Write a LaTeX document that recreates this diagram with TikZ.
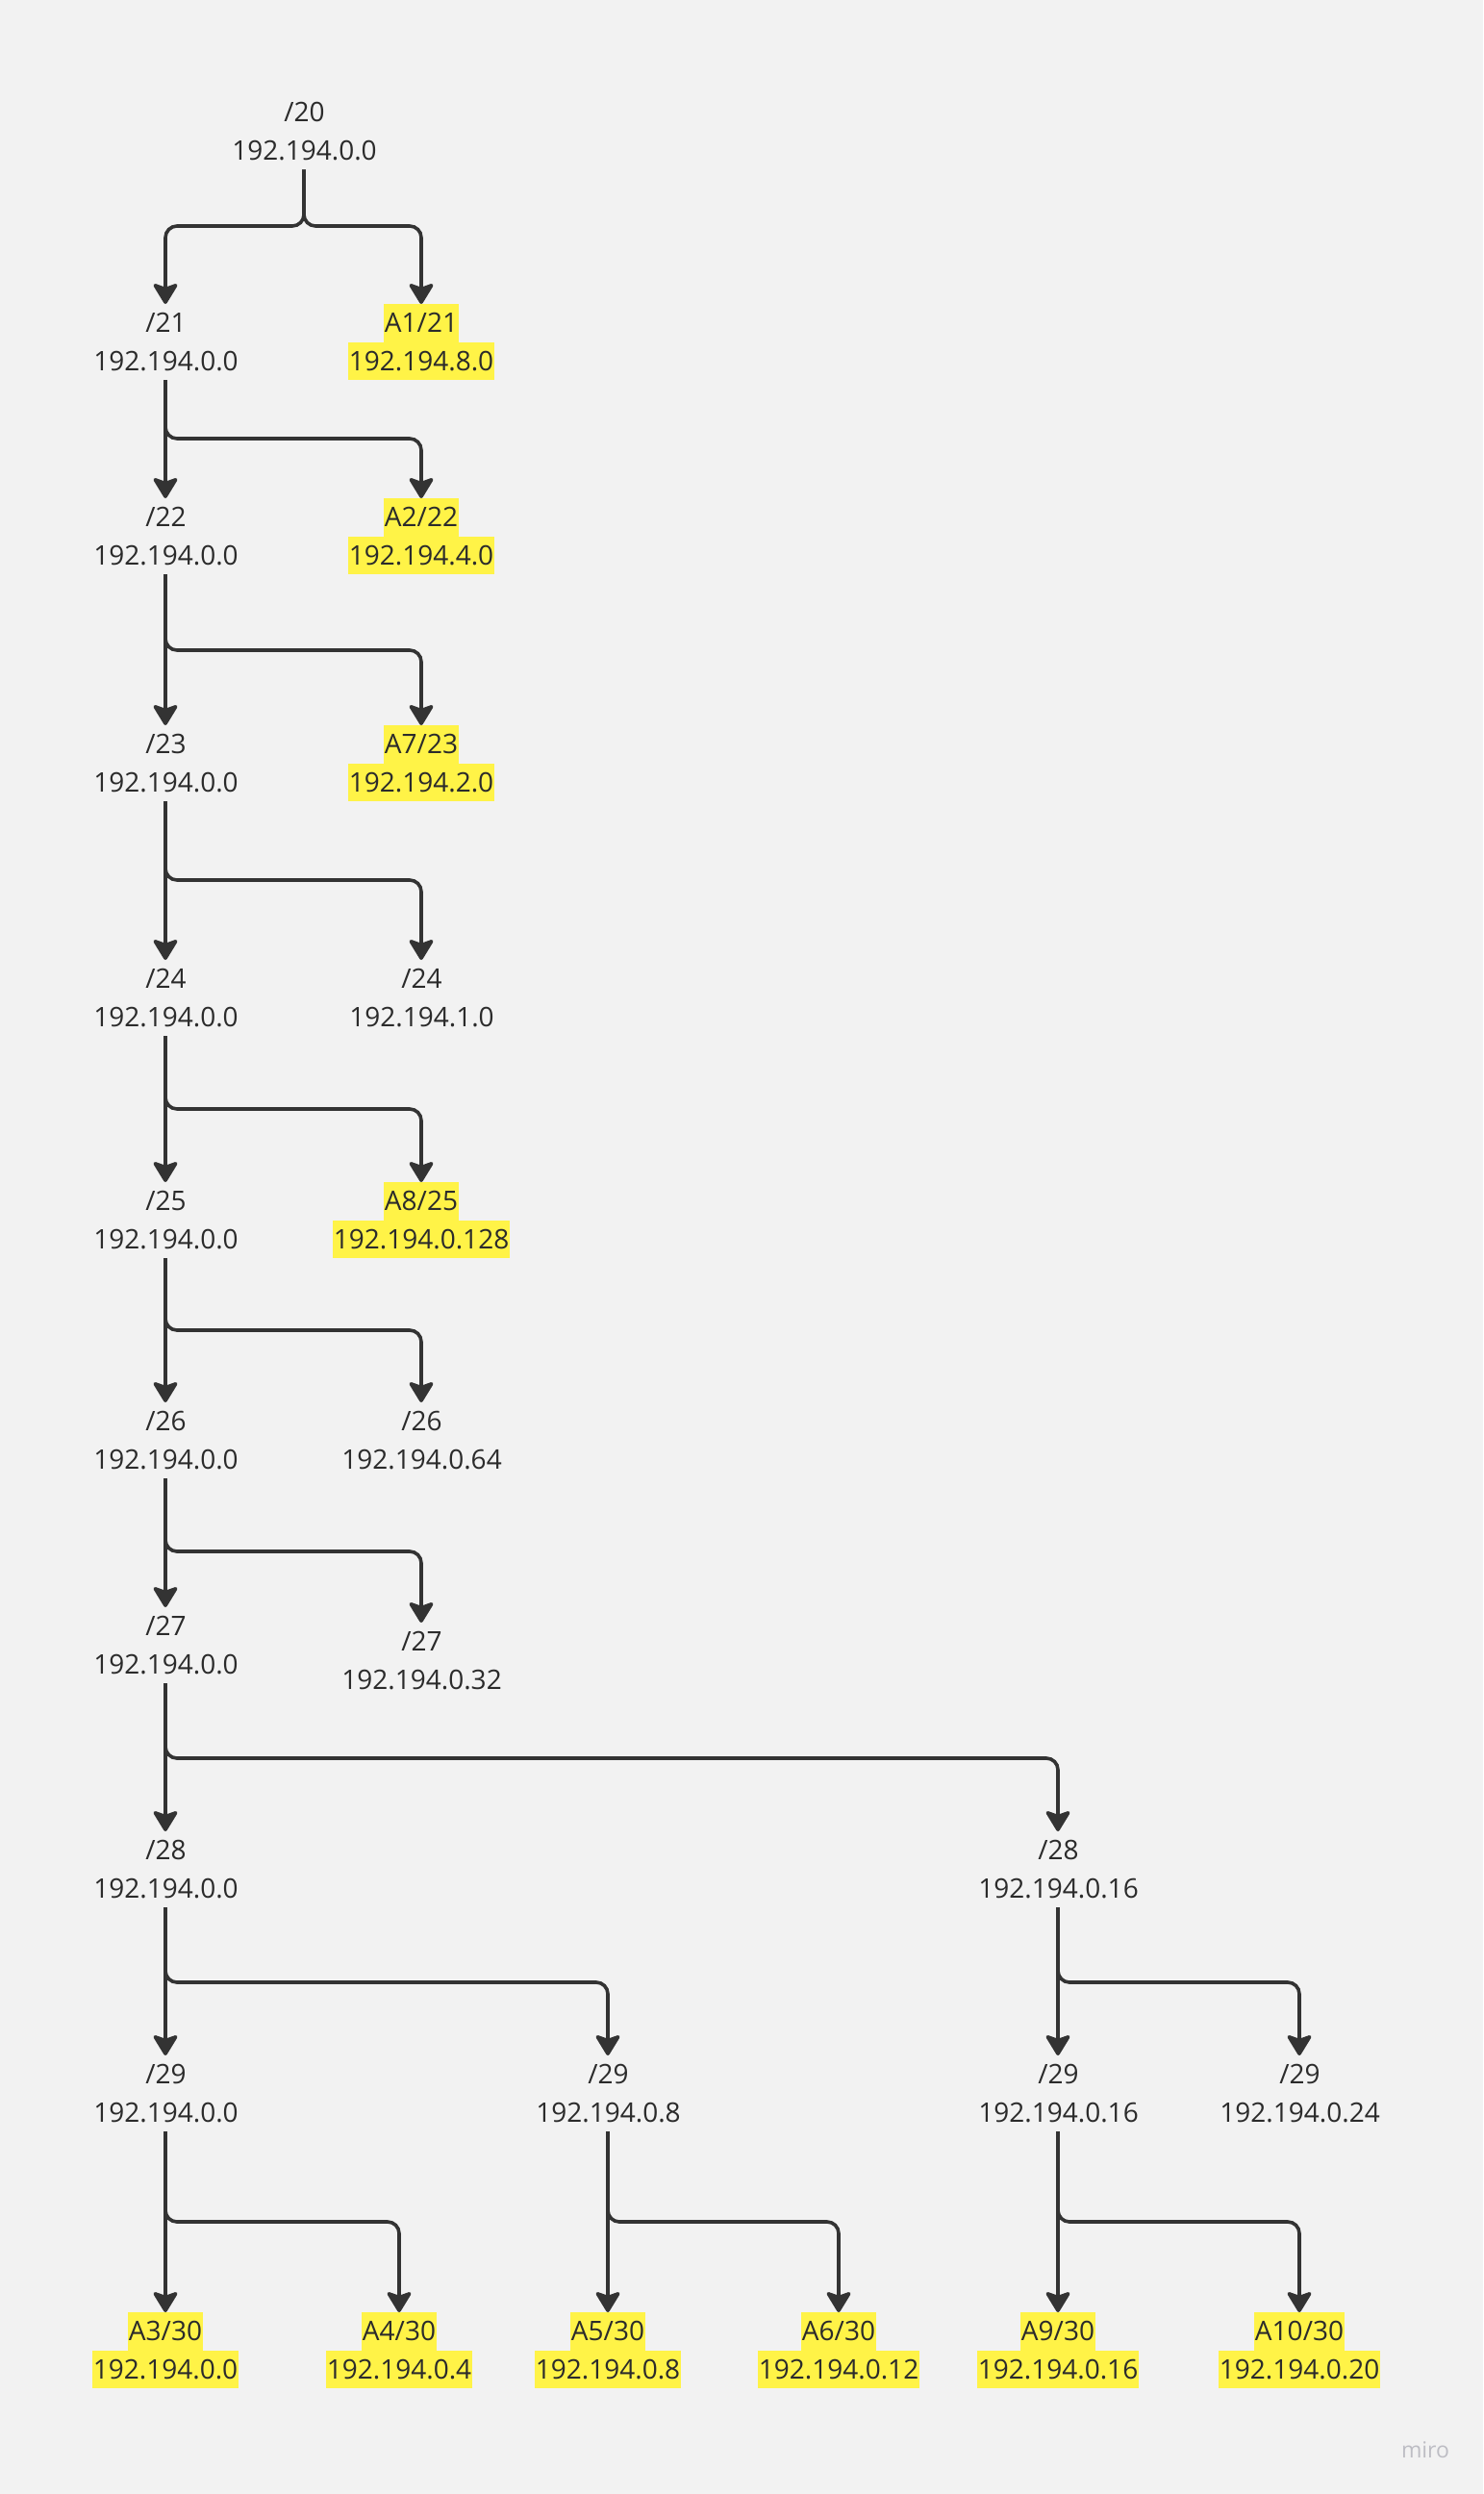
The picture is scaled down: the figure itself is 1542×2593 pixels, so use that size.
\documentclass[tikz,border=0pt]{standalone}
\usepackage{fontspec}
\setmainfont{Open Sans}
\usetikzlibrary{arrows.meta}
\definecolor{bg}{HTML}{F2F2F2}
\definecolor{ink}{HTML}{333333}
\definecolor{txt}{HTML}{2B2B2B}
\definecolor{hly}{HTML}{FFF347}
\definecolor{wm}{HTML}{BDBDC4}
\newcommand{\lnstrut}{\rule[-10pt]{0pt}{39.5pt}}
\newcommand{\hlbox}[1]{{\setlength{\fboxsep}{0pt}\colorbox{hly}{\lnstrut\hspace{1pt}#1\hspace{1pt}}}}
\newcommand{\plbox}[1]{\lnstrut\hspace{1pt}#1\hspace{1pt}}
\tikzset{
  x=1pt, y=-1pt,
  lbl/.style={anchor=north, inner sep=0pt, align=center, text=txt,
    font=\fontsize{28}{39.5}\selectfont},
  conn/.style={draw=ink, line width=3.6pt, rounded corners=12pt,
    -{Stealth[length=24pt, width=29pt, inset=5pt, round]}}
}
\newcommand{\pl}[2]{\plbox{#1}\\\plbox{#2}}
\newcommand{\hl}[2]{\hlbox{#1}\\\hlbox{#2}}
\begin{document}
\begin{tikzpicture}
\fill[bg] (0,0) rectangle (1542,2593);
\useasboundingbox (0,0) rectangle (1542,2593);
% branch levels
\coordinate (b20) at (0,235);
\coordinate (b21) at (0,456);
\coordinate (b22) at (0,676);
\coordinate (b23) at (0,915);
\coordinate (b24) at (0,1153);
\coordinate (b25) at (0,1383);
\coordinate (b26) at (0,1613);
\coordinate (b27) at (0,1828);
\coordinate (b28) at (0,2061);
\coordinate (b29) at (0,2310);
% nodes
\node[lbl] (n20) at (316,97) {\pl{/20}{192.194.0.0}};
\node[lbl] (n21) at (172,316) {\pl{/21}{192.194.0.0}};
\node[lbl] (a1) at (438,316) {\hl{A1/21}{192.194.8.0}};
\node[lbl] (n22) at (172,518) {\pl{/22}{192.194.0.0}};
\node[lbl] (a2) at (438,518) {\hl{A2/22}{192.194.4.0}};
\node[lbl] (n23) at (172,754) {\pl{/23}{192.194.0.0}};
\node[lbl] (a7) at (438,754) {\hl{A7/23}{192.194.2.0}};
\node[lbl] (n24) at (172,998) {\pl{/24}{192.194.0.0}};
\node[lbl] (n24b) at (438,998) {\pl{/24}{192.194.1.0}};
\node[lbl] (n25) at (172,1229) {\pl{/25}{192.194.0.0}};
\node[lbl] (a8) at (438,1229) {\hl{A8/25}{192.194.0.128}};
\node[lbl] (n26) at (172,1458) {\pl{/26}{192.194.0.0}};
\node[lbl] (n26b) at (438,1458) {\pl{/26}{192.194.0.64}};
\node[lbl] (n27) at (172,1671) {\pl{/27}{192.194.0.0}};
\node[lbl] (n27b) at (438,1687) {\pl{/27}{192.194.0.32}};
\node[lbl] (n28) at (172,1904) {\pl{/28}{192.194.0.0}};
\node[lbl] (n28b) at (1100,1904) {\pl{/28}{192.194.0.16}};
\node[lbl] (n29a) at (172,2137) {\pl{/29}{192.194.0.0}};
\node[lbl] (n29b) at (632,2137) {\pl{/29}{192.194.0.8}};
\node[lbl] (n29c) at (1100,2137) {\pl{/29}{192.194.0.16}};
\node[lbl] (n29d) at (1351,2137) {\pl{/29}{192.194.0.24}};
\node[lbl] (a3) at (172,2404) {\hl{A3/30}{192.194.0.0}};
\node[lbl] (a4) at (415,2404) {\hl{A4/30}{192.194.0.4}};
\node[lbl] (a5) at (632,2404) {\hl{A5/30}{192.194.0.8}};
\node[lbl] (a6) at (872,2404) {\hl{A6/30}{192.194.0.12}};
\node[lbl] (a9) at (1100,2404) {\hl{A9/30}{192.194.0.16}};
\node[lbl] (a10) at (1351,2404) {\hl{A10/30}{192.194.0.20}};
\node[inner sep=0pt, text=wm, font=\fontsize{23}{28}\selectfont] (wmk) at (1482,2547) {miro};
% connectors
\draw[conn] (n20.south) -- (n20.south |- b20) -- (n21.north |- b20) -- (n21.north);
\draw[conn] (n20.south) -- (n20.south |- b20) -- (a1.north |- b20) -- (a1.north);
\newcommand{\branch}[4]{%
  \draw[conn] (#1.south) -- (#2.north);
  \draw[conn] (#1.south) -- (#1.south |- #4) -- (#3.north |- #4) -- (#3.north);}
\branch{n21}{n22}{a2}{b21}
\branch{n22}{n23}{a7}{b22}
\branch{n23}{n24}{n24b}{b23}
\branch{n24}{n25}{a8}{b24}
\branch{n25}{n26}{n26b}{b25}
\branch{n26}{n27}{n27b}{b26}
\branch{n27}{n28}{n28b}{b27}
\branch{n28}{n29a}{n29b}{b28}
\branch{n28b}{n29c}{n29d}{b28}
\branch{n29a}{a3}{a4}{b29}
\branch{n29b}{a5}{a6}{b29}
\branch{n29c}{a9}{a10}{b29}
\end{tikzpicture}
\end{document}
